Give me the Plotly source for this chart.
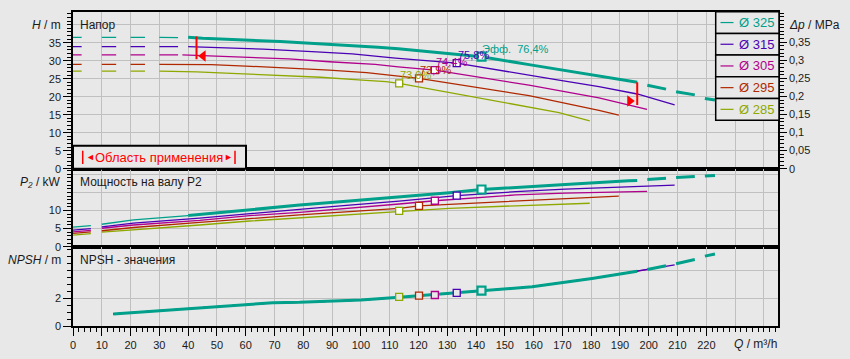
import plotly.graph_objects as go

# ---------------- data ----------------
DIAMETERS = ["325", "315", "305", "295", "285"]
COLORS = ["#00a08a", "#4a00b4", "#b0008c", "#b02800", "#8fa800"]
LEGEND_LABELS = ["Ø 325", "Ø 315", "Ø 305", "Ø 295", "Ø 285"]

# Head H (m) vs flow Q (m3/h); None = gap in dashed parts
Q_H_325 = [0, 3, None, 10, 15, None, 20, 25, None, 30, 36.5, None, 40, 45, 72, 89, 106, 113, 141.9, 158.4, 168.8, 182.7, 196,
           None, 199.5, 206, None, 209.5, 216, None, 219.5, 223]
H_325 = [36.5, 36.5, None, 36.5, 36.5, None, 36.5, 36.5, None, 36.5, 36.4, None, 36.5, 36.2, 35.3, 34.6, 33.7, 33.3, 31.1, 28.9, 27.6, 25.8, 24.0,
         None, 23.2, 22.1, None, 21.4, 20.5, None, 19.5, 19.1]
Q_H_315 = [0, 3, None, 10, 15, None, 20, 25, None, 30, 36.5, None, 40, 66, 83, 97, 112, 133.3, 168.8, 182.7, 196, 209]
H_315 = [33.9, 33.9, None, 33.9, 33.9, None, 33.9, 33.9, None, 33.9, 33.9, None, 33.9, 33.2, 32.5, 31.9, 30.7, 29.3, 24.6, 22.8, 20.75, 17.7]
Q_H_305 = [0, 3, None, 10, 15, None, 20, 25, None, 30, 36.5, None, 38, 56.7, 75, 89, 105, 113, 125.7, 158.4, 168.8, 182.7, 199.4]
H_305 = [31.6, 31.6, None, 31.6, 31.6, None, 31.6, 31.6, None, 31.6, 31.6, None, 31.6, 31.1, 30.5, 29.7, 29.0, 28.3, 27.4, 23.2, 21.7, 19.7, 16.5]
Q_H_295 = [0, 3, None, 10, 15, None, 20, 25, None, 30, 48, 60, 76, 89, 102, 113, 120.2, 158.4, 168.8, 182.7, 189.6]
H_295 = [29.0, 29.0, None, 29.0, 29.0, None, 29.0, 29.0, None, 29.0, 28.9, 28.5, 27.9, 27.4, 26.7, 25.8, 25.1, 20.3, 18.6, 16.2, 14.9]
Q_H_285 = [0, 3, None, 10, 15, None, 20, 25, None, 30, 43, 55, 72, 86, 100.5, 108.7, 113.3, 158.4, 168.8, 179.5]
H_285 = [27.1, 27.1, None, 27.1, 27.1, None, 27.1, 27.1, None, 27.1, 26.9, 26.5, 26.0, 25.4, 24.6, 24.2, 23.7, 17.2, 15.6, 13.3]

# Shaft power P2 (kW)
Q_P_325 = [0, 6.2, None, 10, 21, 40, 61.4, 78.7, 96, 113.3, 130.7, 141.9, 153.8, 171, 193, 196,
           None, 199.5, 206, None, 209.5, 216, None, 219.5, 223]
P_325 = [5.4, 5.8, None, 6.2, 7.4, 8.6, 10.3, 11.5, 12.6, 13.7, 14.9, 15.8, 16.3, 17.2, 18.2, 18.3,
         None, 18.6, 18.9, None, 19.1, 19.4, None, 19.5, 19.7]
Q_P_315 = [0, 6.2, None, 10, 21, 44, 61.4, 78.7, 96, 113.3, 133.3, 153.8, 171, 194.8, 209]
P_315 = [4.6, 5.0, None, 5.5, 6.5, 7.9, 9.2, 10.3, 11.5, 12.6, 14.1, 15.2, 15.9, 16.7, 17.0]
Q_P_305 = [0, 6.2, None, 10, 21, 44, 61.4, 78.7, 96, 113.3, 125.7, 153.8, 171, 189.6, 199.4]
P_305 = [4.1, 4.5, None, 5.1, 6.0, 7.3, 8.6, 9.5, 10.6, 11.8, 12.7, 14.3, 14.8, 15.2, 15.3]
Q_P_295 = [0, 6.2, None, 10, 21, 44, 61.4, 78.7, 96, 113.3, 120.2, 153.8, 171, 189.6]
P_295 = [3.7, 4.1, None, 4.4, 5.3, 6.7, 7.8, 8.8, 9.7, 10.6, 11.3, 12.7, 13.4, 14.0]
Q_P_285 = [0, 6.2, None, 10, 21, 44, 61.4, 78.7, 96, 113.3, 130.7, 153.8, 171, 179.5]
P_285 = [3.2, 3.6, None, 4.0, 4.6, 6.0, 7.1, 8.0, 9.0, 9.9, 10.6, 11.3, 11.9, 12.0]

# NPSH (m)
Q_NPSH = [14, 44, 69.4, 78.7, 100, 113.3, 141.9, 159.5, 180.3, 196, 199.4, 209]
NPSH = [0.87, 1.30, 1.68, 1.71, 1.88, 2.07, 2.55, 2.84, 3.44, 3.95, 4.07, 4.42]
Q_NPSH_325 = [14, 44, 69.4, 78.7, 100, 113.3, 141.9, 159.5, 180.3, 196, None, 199.5, 206, None, 209.5, 216, None, 219.5, 223]
NPSH_325 = [0.87, 1.30, 1.68, 1.71, 1.88, 2.07, 2.55, 2.84, 3.44, 3.95, None, 4.08, 4.35, None, 4.5, 4.8, None, 5.05, 5.2]
Q_MAX = [223, 209, 199.4, 189.6, 179.5]

# Best-efficiency points
EFF_Q = [141.9, 133.3, 125.7, 120.2, 113.3]
EFF_H = [31.1, 29.3, 27.4, 25.1, 23.7]
EFF_P = [15.8, 14.1, 12.7, 11.3, 9.9]
EFF_NPSH = [2.55, 2.4, 2.24, 2.2, 2.1]
EFF_TEXT = ["Эфф.\u00a0\u00a076,4%", "75,8%", "74,4%", "73,9%", "73,0%"]

# Application-range limits (Q) with head span of the marker
RANGE_Q = [42.9, 196]
RANGE_H_LO = [30.4, 17.7]
RANGE_H_HI = [36.7, 24.0]
RANGE_ARROW_Q = [45.2, 193.4]
RANGE_ARROW_H = [31.3, 18.8]

X_TICKS = list(range(0, 250, 10))
X_LABELS = [str(v) if v <= 220 else "" for v in X_TICKS]
H_TICKS = [0, 5, 10, 15, 20, 25, 30, 35, 40]
H_LABELS = ["0", "5", "10", "15", "20", "25", "30", "35", ""]
DP_TICKS = [0, 0.05, 0.1, 0.15, 0.2, 0.25, 0.3, 0.35]
DP_LABELS = ["0", "0,05", "0,1", "0,15", "0,2", "0,25", "0,3", "0,35"]
P_TICKS = [0, 5, 10, 15, 20]
P_LABELS = ["0", "5", "10", "", ""]
N_TICKS = [0, 2, 4]
N_LABELS = ["0", "2", ""]

# ---------------- style ----------------
BG = "#e8e8e8"
GRID = "#c0c0c0"
FONT = "Liberation Sans, Arial, sans-serif"
TXT = "#1a1a1a"
L, R, T, B = 73, 72, 12, 33
WIDTH, HEIGHT = 850, 359
PW, PH = WIDTH - L - R, HEIGHT - T - B


def xp(px):
    return (px - L) / PW


def yp(py):
    return (HEIGHT - B - py) / PH


def split(qs, vs, cut, below):
    oq, ov = [], []
    for q, v in zip(qs, vs):
        if q is None:
            oq.append(None); ov.append(None)
        elif q == cut or (q < cut) == below:
            oq.append(q); ov.append(v)
        else:
            oq.append(None); ov.append(None)
    return oq, ov


fig = go.Figure()


def line(q, v, color, width, xa, ya):
    fig.add_trace(go.Scatter(x=q, y=v, mode="lines", line=dict(color=color, width=width),
                             xaxis=xa, yaxis=ya, hoverinfo="skip", showlegend=False, connectgaps=False))


H_Q = [Q_H_325, Q_H_315, Q_H_305, Q_H_295, Q_H_285]
H_V = [H_325, H_315, H_305, H_295, H_285]
P_Q = [Q_P_325, Q_P_315, Q_P_305, Q_P_295, Q_P_285]
P_V = [P_325, P_315, P_305, P_295, P_285]

THIN, THICK = 1.3, 3
for i in range(len(DIAMETERS) - 1, -1, -1):
    c = COLORS[i]
    if i == 0:
        for qs, vs, xa, ya in [(H_Q[i], H_V[i], "x", "y"), (P_Q[i], P_V[i], "x2", "y2")]:
            q1, v1 = split(qs, vs, 40, True)
            q2, v2 = split(qs, vs, 40, False)
            line(q1, v1, c, THIN, xa, ya)
            line(q2, v2, c, THICK, xa, ya)
        line(Q_NPSH_325, NPSH_325, c, THICK, "x3", "y3")
    else:
        line(H_Q[i], H_V[i], c, THIN, "x", "y")
        line(P_Q[i], P_V[i], c, THIN, "x2", "y2")
        nq, nv = split(Q_NPSH, NPSH, Q_MAX[i], True)
        line(nq, nv, c, THIN, "x3", "y3")

# efficiency markers
for i in range(len(DIAMETERS) - 1, -1, -1):
    c = COLORS[i]
    lw = 2.2 if i == 0 else 1.3
    sz = 8 if i == 0 else 7
    for yv, xa, ya, fill in [(EFF_H[i], "x", "y", "white"), (EFF_P[i], "x2", "y2", "white"),
                             (EFF_NPSH[i], "x3", "y3", BG)]:
        fig.add_trace(go.Scatter(x=[EFF_Q[i]], y=[yv], mode="markers", xaxis=xa, yaxis=ya,
                                 marker=dict(symbol="square", size=sz, color=fill, line=dict(color=c, width=lw)),
                                 hoverinfo="skip", showlegend=False))

# application-range markers
for k in range(2):
    fig.add_trace(go.Scatter(x=[RANGE_Q[k], RANGE_Q[k]], y=[RANGE_H_LO[k], RANGE_H_HI[k]], mode="lines",
                             line=dict(color="#ff0000", width=2), xaxis="x", yaxis="y",
                             hoverinfo="skip", showlegend=False))
    fig.add_trace(go.Scatter(x=[RANGE_ARROW_Q[k]], y=[RANGE_ARROW_H[k]], mode="markers", xaxis="x", yaxis="y",
                             marker=dict(symbol="triangle-left" if k == 0 else "triangle-right", size=10,
                                         color="#ff0000", line=dict(width=0)),
                             hoverinfo="skip", showlegend=False))

# dummy trace for the right-hand pressure axis
fig.add_trace(go.Scatter(x=[None], y=[None], xaxis="x", yaxis="y4", showlegend=False, hoverinfo="skip"))

tickfont = dict(family=FONT, size=11, color=TXT)
axis_common = dict(showline=True, linecolor="black", linewidth=1.5, mirror=True, zeroline=False,
                   gridcolor=GRID, gridwidth=1, showgrid=True, tickfont=tickfont, fixedrange=True,
                   automargin=False)

x_common = dict(axis_common, range=[0, 244.9], tickmode="array", tickvals=X_TICKS, ticktext=X_LABELS)
minor_x = dict(tickvals=list(range(0, 246, 2)), ticklen=4, ticks="outside", tickcolor="black", showgrid=False)


def yaxis(domain, rng, tv, tt, minor_step, n_minor):
    return dict(axis_common, domain=domain, range=rng, tickmode="array", tickvals=tv, ticktext=tt,
                ticks="outside", ticklen=8, tickcolor="black", tickwidth=1,
                minor=dict(tickvals=[round(j * minor_step, 3) for j in range(n_minor)], ticklen=4,
                           ticks="outside", tickcolor="black", showgrid=False))


d1 = (HEIGHT - B - 168.7) / PH
d2 = (HEIGHT - B - 246.7) / PH

ya1 = yaxis([d1, 1], [0, 43.52], H_TICKS, H_LABELS, 1, 44); ya1["anchor"] = "x"
ya2 = yaxis([d2, d1], [0, 21.55], P_TICKS, P_LABELS, 1, 22); ya2["anchor"] = "x2"
ya3 = yaxis([0, d2], [0, 5.73], N_TICKS, N_LABELS, 0.5, 12); ya3["anchor"] = "x3"
ya4 = dict(overlaying="y", side="right", anchor="x", range=[0, 0.4336], tickmode="array",
           tickvals=DP_TICKS, ticktext=DP_LABELS, ticks="outside", ticklen=7, tickcolor="black",
           showline=True, linecolor="black", linewidth=1.5, showgrid=False, zeroline=False,
           tickfont=tickfont, fixedrange=True, automargin=False,
           minor=dict(tickvals=[round(j * 0.01, 2) for j in range(44)], ticklen=4, ticks="outside",
                      tickcolor="black"))

fig.update_layout(
    width=WIDTH, height=HEIGHT, autosize=False,
    margin=dict(l=L, r=R, t=T, b=B, pad=0, autoexpand=False),
    paper_bgcolor=BG, plot_bgcolor=BG,
    font=dict(family=FONT, size=12, color=TXT),
    hovermode=False, showlegend=False,
    xaxis=dict(x_common, domain=[0, 1], anchor="y", showticklabels=False, ticks=""),
    xaxis2=dict(x_common, domain=[0, 1], anchor="y2", matches="x", showticklabels=False, ticks=""),
    xaxis3=dict(x_common, domain=[0, 1], anchor="y3", matches="x", ticks="outside", ticklen=8,
                tickcolor="black", minor=minor_x),
    yaxis=ya1, yaxis2=ya2, yaxis3=ya3, yaxis4=ya4,
)

ann = []
shapes = []


def text(px, py, s, anchor="left", size=12, color=TXT, **kw):
    ann.append(dict(xref="paper", yref="paper", x=xp(px), y=yp(py), text=s, showarrow=False,
                    xanchor=anchor, yanchor="middle", font=dict(family=FONT, size=size, color=color), **kw))


# axis titles and panel captions
text(63, 25, "<i>H</i> / m", "right")
text(63, 182, "<i>P₂</i> / kW", "right")
text(63, 260, "<i>NPSH</i> / m", "right")
text(787, 25, "<i>Δp</i> / MPa", "left")
text(779, 344, "<i>Q</i> / m³/h", "right")
text(78, 25, "Напор")
text(78, 182, "Мощность на валу P2")
text(78, 260, "NPSH - значения")

# efficiency labels
for i in range(len(DIAMETERS) - 1, -1, -1):
    ann.append(dict(xref="x", yref="y", x=EFF_Q[i], y=EFF_H[i], text=EFF_TEXT[i], showarrow=False,
                    xanchor="left", yanchor="middle", xshift=-1, yshift=8,
                    font=dict(family=FONT, size=11, color=COLORS[i])))

# legend boxes
row_top, row_h = 11.7, 21.7
for i, lab in enumerate(LEGEND_LABELS):
    y0 = row_top + i * row_h
    shapes.append(dict(type="rect", xref="paper", yref="paper", x0=xp(715.7), x1=xp(779),
                       y0=yp(y0 + row_h), y1=yp(y0), line=dict(color="black", width=1.5), fillcolor=BG,
                       layer="above"))
    yc = y0 + row_h / 2
    shapes.append(dict(type="line", xref="paper", yref="paper", x0=xp(720.5), x1=xp(733.5),
                       y0=yp(yc), y1=yp(yc), line=dict(color=COLORS[i], width=1.2), layer="above"))
    text(737, yc, lab, "left", size=13, color=COLORS[i])

# application range box
shapes.append(dict(type="rect", xref="paper", yref="paper", x0=xp(73), x1=xp(246), y0=yp(168.7), y1=yp(145.7),
                   line=dict(color="black", width=2), fillcolor=BG, layer="above"))
for bx in [82.7, 235]:
    shapes.append(dict(type="line", xref="paper", yref="paper", x0=xp(bx), x1=xp(bx), y0=yp(164), y1=yp(150.7),
                       line=dict(color="#ff0000", width=1.5), layer="above"))
text(159, 157.5, "Область применения", "center", size=13, color="#ff0000")
text(83.5, 157.5, "◄", "left", size=9, color="#ff0000")
text(234.5, 157.5, "►", "right", size=9, color="#ff0000")

fig.update_layout(annotations=ann, shapes=shapes)

fig.write_html("out.html", config={"displayModeBar": False},
               post_script="document.body.style.margin='0';document.body.style.overflow='hidden';"
                           "document.body.style.background='#e8e8e8';")
